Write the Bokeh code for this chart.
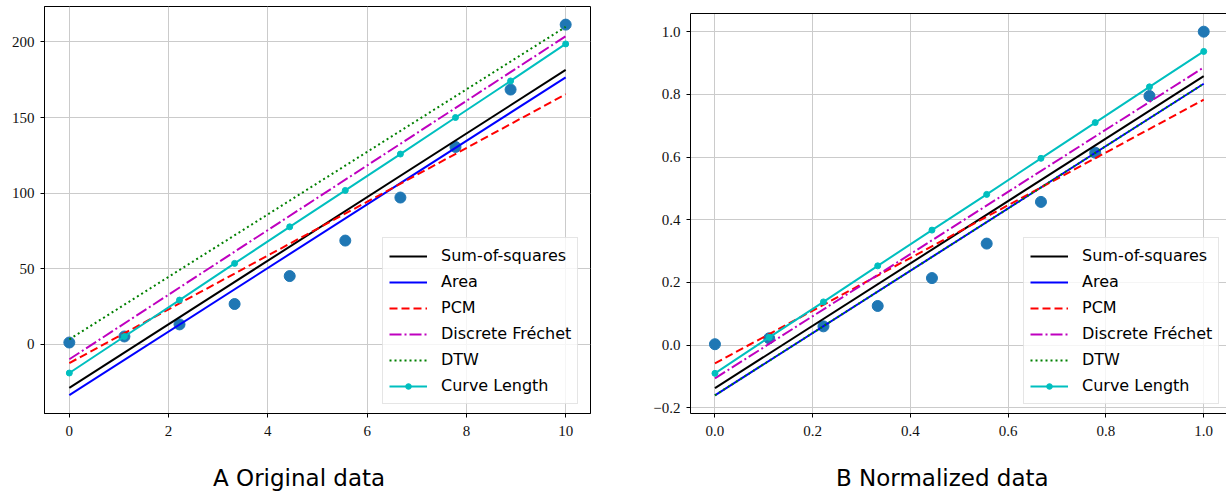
from bokeh.plotting import figure
from bokeh.layouts import row, column
from bokeh.models import Range1d, FixedTicker, LinearAxis, Div
from bokeh.embed import file_html
from bokeh.resources import INLINE

# ---------------- data: A Original data ----------------
orig_x = [0, 1.11, 2.22, 3.33, 4.44, 5.56, 6.67, 7.78, 8.89, 10]
orig_y = [1, 5, 13, 26.5, 45, 68.5, 97, 130.5, 168.5, 211.5]
orig_fit_x = [0, 10]
orig_sos = [-29.0, 181.5]
orig_area = [-33.8, 176.6]
orig_pcm = [-12.6, 165.4]
orig_frechet = [-10.1, 203.8]
orig_dtw = [3.1, 210.0]
orig_curve = [-19.2, 5.0, 29.1, 53.4, 77.6, 101.7, 125.8, 150.0, 174.2, 198.7]
orig_xticks = [0, 2, 4, 6, 8, 10]
orig_yticks = [0, 50, 100, 150, 200]

# ---------------- data: B Normalized data ----------------
norm_x = [0, 0.111, 0.222, 0.333, 0.444, 0.556, 0.667, 0.778, 0.889, 1.0]
norm_y = [0.003, 0.022, 0.060, 0.125, 0.214, 0.324, 0.457, 0.614, 0.795, 1.0]
norm_fit_x = [0, 1]
norm_sos = [-0.137, 0.858]
norm_area = [-0.160, 0.834]
norm_pcm = [-0.058, 0.783]
norm_frechet = [-0.106, 0.886]
norm_dtw = [-0.160, 0.834]
norm_curve = [-0.090, 0.025, 0.138, 0.253, 0.367, 0.481, 0.596, 0.710, 0.824, 0.937]
norm_xticks = [0.0, 0.2, 0.4, 0.6, 0.8, 1.0]
norm_xlabels = ["0.0", "0.2", "0.4", "0.6", "0.8", "1.0"]
norm_yticks = [-0.2, 0.0, 0.2, 0.4, 0.6, 0.8, 1.0]
norm_ylabels = ["\u22120.2", "0.0", "0.2", "0.4", "0.6", "0.8", "1.0"]

labels = ["Sum-of-squares", "Area", "PCM", "Discrete Fr\u00e9chet", "DTW", "Curve Length"]
colors = ["#000000", "#0000ff", "#ff0000", "#bf00bf", "#008000", "#00bfbf"]
dashes = ["solid", "solid", "8 4", "12 3 2 3", "2 3", "solid"]

TICK_FONT = "Liberation Serif"


def make_panel(width, x_range, y_range, border_left, border_right, border_top,
               px, py, fit_x, fits, curve, xticks, yticks, xlabels, ylabels,
               legend_loc, right_cut):
    p = figure(width=width, height=455, output_backend="svg", toolbar_location=None,
               title=None,
               x_range=Range1d(*x_range), y_range=Range1d(*y_range),
               min_border_left=border_left, min_border_right=border_right,
               min_border_top=border_top, min_border_bottom=42,
               background_fill_color="white", border_fill_color="white")
    p.xgrid.grid_line_color = "#cbcbcb"
    p.ygrid.grid_line_color = "#cbcbcb"
    p.xgrid.grid_line_width = 1
    p.ygrid.grid_line_width = 1
    p.xaxis.ticker = FixedTicker(ticks=xticks)
    p.yaxis.ticker = FixedTicker(ticks=yticks)
    if xlabels:
        p.xaxis.major_label_overrides = {t: l for t, l in zip(xticks, xlabels)}
    if ylabels:
        p.yaxis.major_label_overrides = {t: l for t, l in zip(yticks, ylabels)}
    for ax in (p.xaxis, p.yaxis):
        ax.axis_line_color = "black"
        ax.axis_line_width = 1
        ax.major_tick_line_color = "black"
        ax.major_tick_out = 4
        ax.major_tick_in = 0
        ax.minor_tick_line_color = None
        ax.major_label_text_font = TICK_FONT
        ax.major_label_text_font_size = "15px"
        ax.major_label_text_color = "#111111"
    p.xaxis.major_label_standoff = 8
    p.yaxis.major_label_standoff = 6
    if right_cut:
        p.outline_line_color = None
        top = LinearAxis(ticker=FixedTicker(ticks=[]), major_tick_line_color=None,
                         minor_tick_line_color=None, major_tick_out=0,
                         major_label_standoff=0, axis_line_color="black")
        p.add_layout(top, "above")
    else:
        p.outline_line_color = "black"
        p.outline_line_width = 1
        p.outline_line_alpha = 1

    p.scatter(px, py, size=11, color="#1f77b4", line_color="#1f77b4")
    for lab, col, dash, ys in zip(labels[:5], colors[:5], dashes[:5], fits):
        p.line(fit_x, ys, line_color=col, line_width=2, line_dash=dash, legend_label=lab)
    p.line(px, curve, line_color=colors[5], line_width=2, legend_label=labels[5])
    p.scatter(px, curve, size=6, color=colors[5], legend_label=labels[5])

    lg = p.legend[0]
    lg.location = legend_loc
    lg.label_text_font = "DejaVu Sans"
    lg.label_text_font_size = "16px"
    lg.label_text_color = "black"
    lg.glyph_width = 38
    lg.glyph_height = 14
    lg.label_height = 23
    lg.label_standoff = 14
    lg.spacing = 3
    lg.padding = 6
    lg.margin = 0
    lg.border_line_color = "#cccccc"
    lg.border_line_width = 1
    lg.background_fill_color = "white"
    lg.background_fill_alpha = 0.8
    return p


def title_div(text, left):
    html = ('<div style="margin:0; padding:0; margin-left:%dpx; margin-top:12px; '
            'font-family:\'DejaVu Sans\'; font-size:23px; line-height:23px; '
            'white-space:nowrap; color:black;">%s</div>' % (left, text))
    return Div(text=html, width=613, height=39, margin=0)


p1 = make_panel(613, (-0.5, 10.5), (-46, 223.5), 44, 23, 6,
                orig_x, orig_y, orig_fit_x,
                [orig_sos, orig_area, orig_pcm, orig_frechet, orig_dtw], orig_curve,
                orig_xticks, orig_yticks, None, None, (338, 9), False)

p2 = make_panel(613, (-0.05, 1.0466), (-0.218, 1.058), 77, 0, 13,
                norm_x, norm_y, norm_fit_x,
                [norm_sos, norm_area, norm_pcm, norm_frechet, norm_dtw], norm_curve,
                norm_xticks, norm_yticks, norm_xlabels, norm_ylabels, (333, 9), True)

layout = row(column(p1, title_div("A Original data", 213), spacing=0),
             column(p2, title_div("B Normalized data", 223), spacing=0),
             spacing=0)
open("out.html", "w").write(file_html(layout, INLINE))
